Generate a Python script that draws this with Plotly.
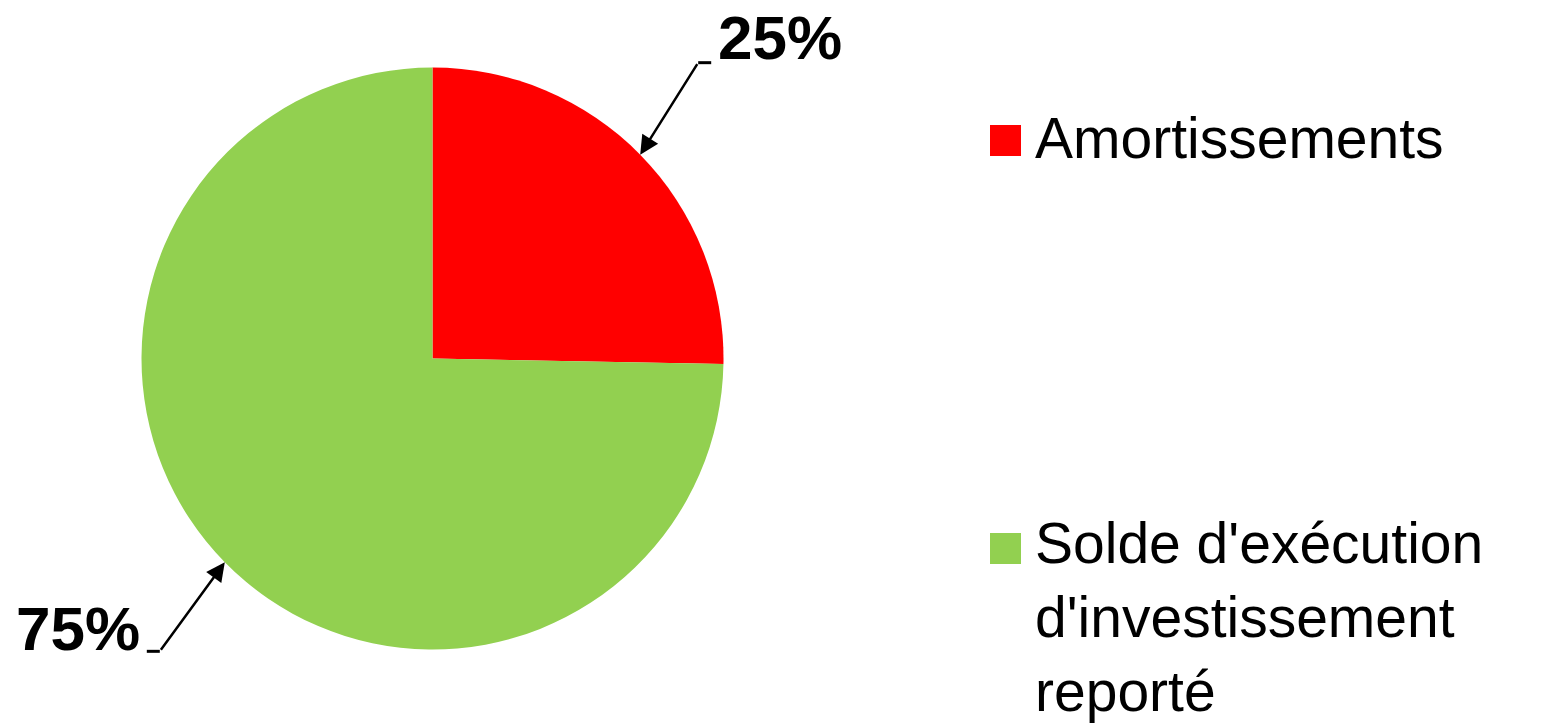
import math
import textwrap
import plotly.graph_objects as go

# ---- data ----
categories = ["Amortissements", "Solde d'exécution d'investissement reporté"]
values = [25.3, 74.7]
colors = ["#FF0000", "#92D050"]

# ---- layout constants (pixels) ----
W, H = 1547, 728
CX, CY, R = 432.5, 358.5, 291.0
LEADER = [(58, -92), (-65, 89)]   # elbow offset from arrow tip
HSEG = 13                           # horizontal leader segment length
LEG_X = 990
LEG_SQ = 31
LEG_TOPS = [125, 533]
FONT = "Liberation Sans, Arial, sans-serif"


def px(x):
    return x / W


def py(y):
    return 1 - y / H


fig = go.Figure()
fig.add_trace(go.Pie(
    labels=categories,
    values=values,
    sort=False,
    direction="clockwise",
    rotation=0,
    marker=dict(colors=colors, line=dict(width=0)),
    textinfo="none",
    hoverinfo="label+percent",
    showlegend=False,
    domain=dict(x=[px(CX - R), px(CX + R)], y=[py(CY + R), py(CY - R)]),
))

annotations = []
shapes = []
total = sum(values)
cum = 0.0
for i, v in enumerate(values):
    a = (cum + v / 2) / total * 2 * math.pi
    cum += v
    tx = CX + R * math.sin(a)
    ty = CY - R * math.cos(a)
    dx, dy = LEADER[i]
    ex, ey = tx + dx, ty + dy
    sgn = 1 if dx > 0 else -1
    # arrow from elbow to slice edge
    annotations.append(dict(
        x=px(tx), y=py(ty), xref="paper", yref="paper",
        ax=dx, ay=dy, text="", showarrow=True,
        arrowhead=2, arrowsize=1.5, arrowwidth=2.5, arrowcolor="black",
    ))
    # horizontal segment
    shapes.append(dict(
        type="line", xref="paper", yref="paper",
        x0=px(ex), y0=py(ey), x1=px(ex + sgn * HSEG), y1=py(ey),
        line=dict(color="black", width=3),
    ))
    pct = round(v / total * 100)
    annotations.append(dict(
        x=px(ex + sgn * (HSEG + 5)), y=py(ey), xref="paper", yref="paper",
        text=f"<b>{pct}%</b>", showarrow=False,
        xanchor="left" if sgn > 0 else "right", yanchor="bottom",
        yshift=-14 if sgn < 0 else -11,
        font=dict(family=FONT, size=62, color="black"),
    ))

# legend (drawn manually to match large square keys)
for i, (cat, col) in enumerate(zip(categories, colors)):
    top = LEG_TOPS[i]
    shapes.append(dict(
        type="rect", xref="paper", yref="paper",
        x0=px(LEG_X), x1=px(LEG_X + LEG_SQ), y0=py(top + LEG_SQ), y1=py(top),
        fillcolor=col, line=dict(width=0),
    ))
    annotations.append(dict(
        x=px(LEG_X + LEG_SQ + 12), y=py(top - 21 - (3 if i else 0)),
        xref="paper", yref="paper",
        text="<br>".join(textwrap.wrap(cat, 17)), showarrow=False,
        xanchor="left", yanchor="top", align="left",
        font=dict(family=FONT, size=57, color="black"),
    ))

fig.update_layout(
    width=W, height=H,
    margin=dict(l=0, r=0, t=0, b=0),
    paper_bgcolor="white", plot_bgcolor="white",
    annotations=annotations, shapes=shapes,
)

fig.write_html(
    "out.html",
    config={"displayModeBar": False},
    post_script="document.body.style.margin='0';document.body.style.overflow='hidden';",
)
